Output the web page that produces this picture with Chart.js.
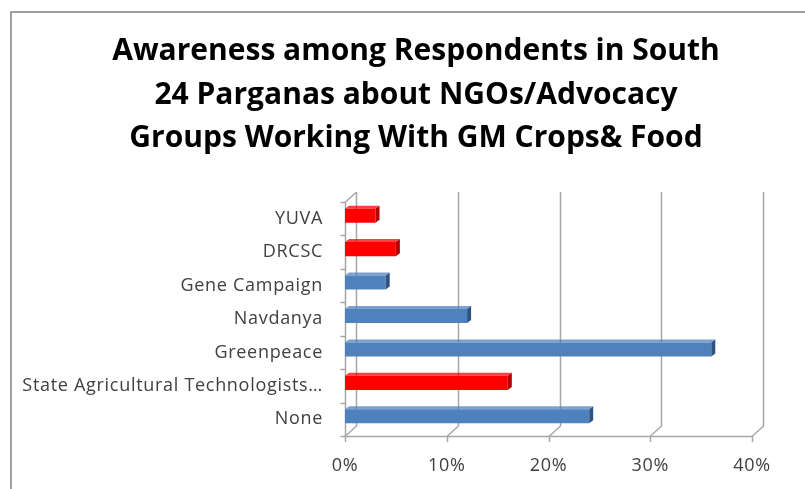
<!DOCTYPE html>
<html>
<head>
<meta charset="utf-8">
<script src="https://cdn.jsdelivr.net/npm/chart.js@4.4.1/dist/chart.umd.min.js"></script>
<style>
  html, body { margin: 0; padding: 0; background: #ffffff; }
  #wrap { width: 805px; height: 489px; position: relative; }
</style>
</head>
<body>
<div id="wrap"><canvas id="awareChart" width="805" height="489"></canvas></div>
<script>
// ===============================
// DATA
// ===============================
const categories = [
  "YUVA",
  "DRCSC",
  "Gene Campaign",
  "Navdanya",
  "Greenpeace",
  "State Agricultural Technologists\u2026",
  "None"
];
const awarenessPct = [3, 5, 4, 12, 36, 16, 24];
const barColors = ["#ff0000", "#ff0000", "#4f81bd", "#4f81bd", "#4f81bd", "#ff0000", "#4f81bd"];
const barSideColors = ["#b30000", "#b30000", "#2f5380", "#2f5380", "#2f5380", "#b30000", "#2f5380"];
const xTicks = [0, 10, 20, 30, 40];

const titleLines = [
  "Awareness among Respondents in South",
  "24 Parganas about NGOs/Advocacy",
  "Groups Working With GM Crops& Food"
];

const DX = 11, DY = 10;     // depth of the back wall
const LIFT = 3;             // bars sit a bit up, toward the back wall
const GRAY = "#a6a6a6";

// ===============================
// frame, title, walls and bar faces
// ===============================
const framePlugin = {
  id: "frame",
  beforeDraw(chart) {
    const c = chart.ctx;
    c.save();
    c.strokeStyle = "#a0a0a0";
    c.lineWidth = 2;
    c.beginPath();
    c.moveTo(11, 489);
    c.lineTo(11, 12);
    c.lineTo(805, 12);
    c.stroke();
    c.restore();
    // spaced-out axis text, like the original
    c.letterSpacing = "0.7px";
  },
  beforeDatasetsDraw(chart) {
    const c = chart.ctx;
    const a = chart.chartArea;
    const xs = chart.scales.x;
    c.save();
    c.strokeStyle = GRAY;
    c.lineWidth = 1.5;
    // back wall gridlines + floor diagonals + ticks down
    xTicks.forEach(v => {
      const x = Math.round(xs.getPixelForValue(v)) + 0.5;
      c.beginPath();
      c.moveTo(x, a.bottom + 6);
      c.lineTo(x, a.bottom);
      c.lineTo(x + DX, a.bottom - DY);
      c.lineTo(x + DX, a.top - DY);
      c.stroke();
    });
    // front floor line
    c.beginPath();
    c.moveTo(a.left, a.bottom + 0.5);
    c.lineTo(a.right, a.bottom + 0.5);
    c.stroke();
    // left wall
    const lx = Math.round(a.left) + 0.5;
    c.beginPath();
    c.moveTo(lx, a.bottom);
    c.lineTo(lx, a.top);
    c.lineTo(lx + DX, a.top - DY);
    c.stroke();
    // category boundary ticks
    const step = (a.bottom - a.top) / categories.length;
    for (let i = 0; i <= categories.length; i++) {
      const y = Math.round(a.top + i * step) + 0.5;
      c.beginPath();
      c.moveTo(lx - 5, y);
      c.lineTo(lx, y);
      c.stroke();
    }
    c.restore();
  },
  beforeDatasetDraw(chart) {
    chart.ctx.save();
    chart.ctx.translate(0, -LIFT);
  },
  afterDatasetDraw(chart) {
    chart.ctx.restore();
  },
  afterDatasetsDraw(chart) {
    const c = chart.ctx;
    const meta = chart.getDatasetMeta(0);
    const d = 4;
    c.save();
    meta.data.forEach((bar, i) => {
      const p = bar.getProps(["x", "y", "base", "height"], true);
      const top = p.y - p.height / 2 - LIFT;
      const bot = p.y + p.height / 2 - LIFT;
      // top face
      c.fillStyle = barColors[i];
      c.globalAlpha = 0.75;
      c.beginPath();
      c.moveTo(p.base, top);
      c.lineTo(p.base + d, top - d + 1);
      c.lineTo(p.x + d, top - d + 1);
      c.lineTo(p.x, top);
      c.closePath();
      c.fill();
      c.globalAlpha = 1;
      // right end face
      c.fillStyle = barSideColors[i];
      c.beginPath();
      c.moveTo(p.x, top);
      c.lineTo(p.x + d, top - d + 1);
      c.lineTo(p.x + d, bot - d + 1);
      c.lineTo(p.x, bot);
      c.closePath();
      c.fill();
    });
    c.restore();
  },
  afterDraw(chart) {
    const c = chart.ctx;
    c.save();
    c.letterSpacing = "0px";
    c.fillStyle = "#000000";
    c.font = "bold 30px 'Open Sans'";
    c.textAlign = "center";
    c.textBaseline = "alphabetic";
    titleLines.forEach((t, i) => c.fillText(t, 416, 60 + i * 43.5));
    c.restore();
  }
};

// ===============================
// CHART
// ===============================
const ctx = document.getElementById("awareChart");

new Chart(ctx, {
  type: "bar",
  data: {
    labels: categories,
    datasets: [{
      data: awarenessPct,
      backgroundColor: barColors,
      borderWidth: 0,
      barPercentage: 0.42,
      categoryPercentage: 1
    }]
  },
  options: {
    indexAxis: "y",
    responsive: false,
    animation: false,
    layout: { padding: { left: 0, right: 53, top: 202, bottom: 0 } },
    scales: {
      x: {
        min: 0,
        max: 40,
        afterBuildTicks(scale) {
          scale.ticks = xTicks.map(v => ({ value: v }));
        },
        afterFit(scale) { scale.height = 53; },
        grid: { display: false, drawTicks: false },
        border: { display: false },
        ticks: {
          padding: 19,
          color: "#404040",
          font: { family: "Open Sans", size: 18 },
          callback: v => v + "%"
        }
      },
      y: {
        afterFit(scale) { scale.width = 345; },
        grid: { display: false, drawTicks: false },
        border: { display: false },
        ticks: {
          padding: 22,
          color: "#404040",
          font: { family: "Open Sans", size: 18 }
        }
      }
    },
    plugins: {
      legend: { display: false },
      tooltip: { enabled: false },
      title: { display: false }
    }
  },
  plugins: [framePlugin]
});
</script>
</body>
</html>
